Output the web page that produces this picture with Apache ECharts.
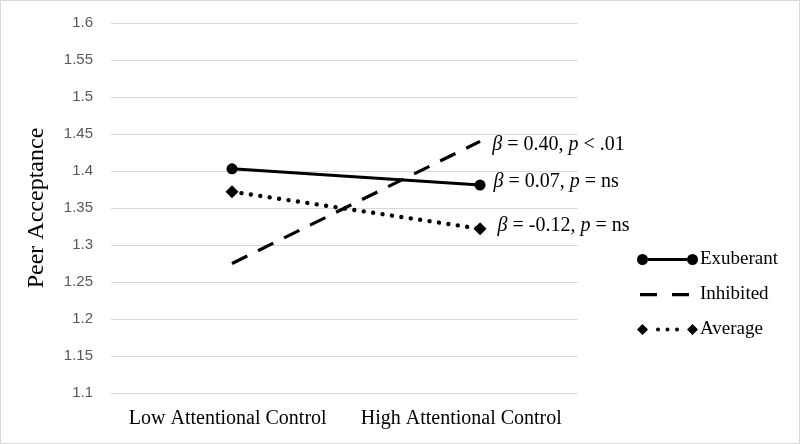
<!DOCTYPE html>
<html>
<head>
<meta charset="utf-8">
<script src="https://cdn.jsdelivr.net/npm/echarts@6/dist/echarts.min.js"></script>
<style>
html,body{margin:0;padding:0;background:#fff;}
#chart{width:800px;height:444px;}
</style>
</head>
<body>
<div id="chart"></div>
<script>
// ---- data ----
var categories = ['Low Attentional Control', 'High Attentional Control'];
var seriesNames = ['Exuberant', 'Inhibited', 'Average'];
var exuberant = [1.403, 1.381];
var inhibited = [1.275, 1.440];
var average = [1.372, 1.322];
// annotation parts: [beta value, p relation]
var annotExuberant = ['0.07', '= ns'];
var annotInhibited = ['0.40', '< .01'];
var annotAverage = ['-0.12', '= ns'];
var yMin = 1.1, yMax = 1.6, yStep = 0.05;

function annot(parts) {
  return '{i|\u03b2} = ' + parts[0] + ', {i|p} ' + parts[1];
}
function toPts(vals) {
  return vals.map(function (v, i) { return [i, v]; });
}

var serif = '"Liberation Serif", "Times New Roman", serif';
var richText = {
  i: { fontStyle: 'italic', fontFamily: serif, fontSize: 20, color: '#000' }
};

function endLabel(parts, dist, dy) {
  return {
    show: true, position: 'right', distance: dist, offset: [0, dy],
    formatter: annot(parts),
    fontFamily: serif, fontSize: 20, color: '#000', rich: richText
  };
}

function withEndLabel(vals, parts, dist, dy) {
  var pts = toPts(vals);
  return pts.map(function (p, i) {
    if (i === pts.length - 1) {
      return { value: p, label: endLabel(parts, dist, dy) };
    }
    return { value: p };
  });
}

// legend icons (61 x 11 box)
var iconExu = 'path://M0 5.5A5.5 5.5 0 1 1 11 5.5A5.5 5.5 0 1 1 0 5.5Z' +
  'M11 4L50 4L50 7L11 7Z' +
  'M50 5.5A5.5 5.5 0 1 1 61 5.5A5.5 5.5 0 1 1 50 5.5Z';
var iconInh = 'path://M0 0L0.01 0L0.01 0.01L0 0.01Z M3 4L20 4L20 7.2L3 7.2Z M35 4L52 4L52 7.2L35 7.2Z M60.99 10.99L61 10.99L61 11L60.99 11Z';
var iconAvg = 'path://M0 5.5L5.5 0L11 5.5L5.5 11Z' +
  'M19 5.5A2 2 0 1 1 23 5.5A2 2 0 1 1 19 5.5Z' +
  'M28.5 5.5A2 2 0 1 1 32.5 5.5A2 2 0 1 1 28.5 5.5Z' +
  'M38 5.5A2 2 0 1 1 42 5.5A2 2 0 1 1 38 5.5Z' +
  'M50 5.5L55.5 0L61 5.5L55.5 11Z';

var chart = echarts.init(document.getElementById('chart'), null, { renderer: 'canvas' });
chart.setOption({
  animation: false,
  backgroundColor: '#fff',
  graphic: [{
    type: 'rect', shape: { x: 0.5, y: 0.5, width: 799, height: 443 },
    style: { fill: 'none', stroke: '#d9d9d9', lineWidth: 1 }, silent: true
  }],
  grid: { left: 111, right: 222, top: 23, bottom: 51 },
  legend: {
    orient: 'vertical', left: 632, top: 245,
    itemWidth: 61, itemHeight: 11, itemGap: 16,
    textStyle: { fontFamily: serif, fontSize: 19, color: '#000', padding: [0, 0, 0, -3] },
    data: [
      { name: seriesNames[0], icon: iconExu, itemStyle: { color: '#000', opacity: 1 } },
      { name: seriesNames[1], icon: iconInh, itemStyle: { color: '#000', opacity: 1 } },
      { name: seriesNames[2], icon: iconAvg, itemStyle: { color: '#000', opacity: 1 } }
    ]
  },
  xAxis: [{
    type: 'category', data: categories, boundaryGap: true,
    axisLine: { show: false }, axisTick: { show: false },
    axisLabel: { fontFamily: serif, fontSize: 20, color: '#000', margin: 16, interval: 0 }
  }, {
    type: 'value', min: -0.488, max: 1.395, show: false
  }],
  yAxis: {
    type: 'value', min: yMin, max: yMax, interval: yStep,
    name: 'Peer Acceptance', nameLocation: 'middle', nameGap: 62,
    nameTextStyle: { fontFamily: serif, fontSize: 24, color: '#000' },
    axisLine: { show: false }, axisTick: { show: false },
    axisLabel: {
      fontFamily: '"Liberation Sans", Arial, sans-serif', fontSize: 15, color: '#595959', margin: 18,
      formatter: function (v) { return String(parseFloat(v.toFixed(2))); }
    },
    splitLine: { lineStyle: { color: '#d9d9d9', width: 1 } }
  },
  series: [{
    name: seriesNames[0], type: 'line', xAxisIndex: 1,
    data: withEndLabel(exuberant, annotExuberant, 8, -3),
    symbol: 'circle', symbolSize: 11,
    lineStyle: { color: '#000', width: 3 }, itemStyle: { color: '#000' },
    z: 3
  }, {
    name: seriesNames[1], type: 'line', xAxisIndex: 1,
    data: withEndLabel(inhibited, annotInhibited, 12, 3),
    symbol: 'circle', symbolSize: 0.5,
    lineStyle: { color: '#000', width: 3.2, type: [17, 12] }, itemStyle: { color: '#000' },
    z: 2
  }, {
    name: seriesNames[2], type: 'line', xAxisIndex: 1,
    data: withEndLabel(average, annotAverage, 11, -3),
    symbol: 'diamond', symbolSize: 13,
    lineStyle: { color: '#000', width: 4.4, type: [0.01, 9.5], cap: 'round' }, itemStyle: { color: '#000' },
    z: 2
  }]
});
</script>
</body>
</html>
